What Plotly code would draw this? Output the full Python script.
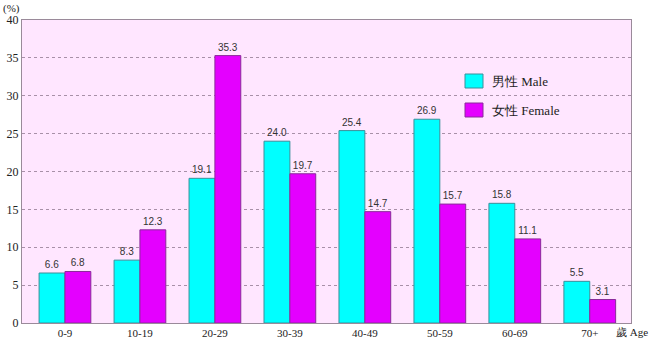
import plotly.graph_objects as go

# Age groups and percentage shares by sex
age_groups = ["0-9", "10-19", "20-29", "30-39", "40-49", "50-59", "60-69", "70+"]
male_pct = [6.6, 8.3, 19.1, 24.0, 25.4, 26.9, 15.8, 5.5]
female_pct = [6.8, 12.3, 35.3, 19.7, 14.7, 15.7, 11.1, 3.1]
y_ticks = [0, 5, 10, 15, 20, 25, 30, 35, 40]

MALE_COLOR = "#00FFFF"
FEMALE_COLOR = "#E400FF"
SERIF = "Liberation Serif, Times New Roman, serif"
NARROW = "Liberation Sans Narrow, Arial Narrow, Liberation Sans, sans-serif"

fig = go.Figure()
fig.add_trace(go.Bar(
    x=age_groups, y=male_pct, name="男性 Male",
    marker=dict(color=MALE_COLOR, line=dict(color="#3A8F9A", width=1)),
    text=[f"{v:.1f}" for v in male_pct], textposition="outside",
    textfont=dict(family=NARROW, size=10, color="#333333"),
    cliponaxis=False,
))
fig.add_trace(go.Bar(
    x=age_groups, y=female_pct, name="女性 Female",
    marker=dict(color=FEMALE_COLOR, line=dict(color="#8A2A9A", width=1)),
    text=[f"{v:.1f}" for v in female_pct], textposition="outside",
    textfont=dict(family=NARROW, size=10, color="#333333"),
    cliponaxis=False,
))

# Hand-drawn legend boxes and labels
legend_items = [("男性 Male", MALE_COLOR, "#3A8F9A", 0.0), ("女性 Female", FEMALE_COLOR, "#8A2A9A", 1.0)]
shapes = []
annotations = []
for label, fill, edge, i in legend_items:
    y0 = 74 + i * 29
    shapes.append(dict(type="rect", xref="paper", yref="paper",
                       x0=(465 - 22) / 609, x1=(483 - 22) / 609,
                       y0=1 - (y0 + 14 - 20) / 303, y1=1 - (y0 - 20) / 303,
                       fillcolor=fill, line=dict(color=edge, width=1)))
    annotations.append(dict(text=label, xref="paper", yref="paper",
                            x=(490 - 22) / 609, y=1 - (y0 + 7 - 20) / 303,
                            xanchor="left", yanchor="middle", showarrow=False,
                            font=dict(family=SERIF, size=13, color="#222222")))

annotations.append(dict(text="(%)", xref="paper", yref="paper", x=-0.005, y=1.0,
                        xanchor="right", yanchor="bottom", showarrow=False,
                        font=dict(family=SERIF, size=11, color="#222222"),
                        xshift=3, yshift=3))
annotations.append(dict(text="歲 Age", xref="paper", yref="paper", x=(614 - 22) / 609, y=0,
                        xanchor="left", yanchor="top", showarrow=False,
                        font=dict(family=SERIF, size=11, color="#222222"), yshift=-1))

fig.update_layout(
    width=650, height=349,
    margin=dict(l=22, r=19, t=20, b=26),
    paper_bgcolor="white",
    plot_bgcolor="#FFE6FF",
    barmode="group", bargap=0.31, bargroupgap=0.0,
    showlegend=False,
    shapes=shapes,
    annotations=annotations,
    xaxis=dict(
        range=[-0.573, 7.55], showgrid=False, ticks="", automargin=False,
        showline=True, linecolor="#9A8A9A", linewidth=1, mirror=True,
        tickfont=dict(family=SERIF, size=11, color="#222222"),
    ),
    yaxis=dict(
        range=[0, 40], tickvals=y_ticks, ticks="", automargin=False,
        showgrid=True, gridcolor="#A890A8", griddash="dot", gridwidth=1,
        showline=True, linecolor="#9A8A9A", linewidth=1, mirror=True,
        zeroline=False, ticklabelstandoff=0,
        tickfont=dict(family=SERIF, size=12, color="#222222"),
    ),
)

fig.write_html("out.html")
